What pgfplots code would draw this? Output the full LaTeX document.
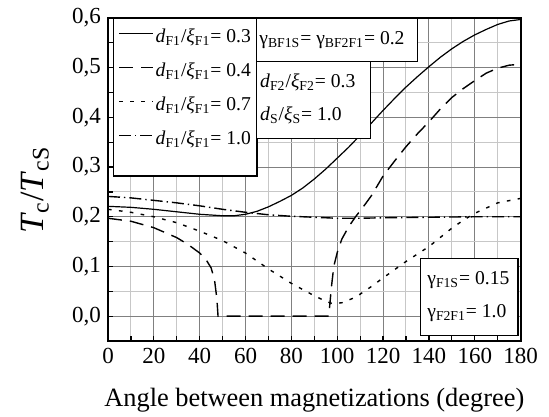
\documentclass[border=0pt]{standalone}
\usepackage{fontspec}
\setmainfont{Liberation Serif}
\usepackage{pgfplots}
\pgfplotsset{compat=1.18}

% T_c/T_cS against angle, four values of d_F1/xi_F1
\newcommand{\dxi}[1]{\textit{d}\textsubscript{F1}/\textit{ξ}\textsubscript{F1}= #1}

\begin{document}
\begin{tikzpicture}
\useasboundingbox (-54pt,-37.5pt) rectangle (220.5pt,170.5pt);
\begin{axis}[
  at={(0,0)}, anchor=south west,
  scale only axis, width=206.3pt, height=161.5pt,
  xmin=0, xmax=180, ymin=-0.05, ymax=0.6,
  xtick={0,20,40,60,80,100,120,140,160,180},
  ytick={0,0.1,0.2,0.3,0.4,0.5,0.6},
  minor tick num=1,
  grid=both,
  major grid style={line width=0.5pt, draw=black!50},
  minor grid style={line width=0.5pt, draw=black!22},
  tick align=inside, tick pos=left,
  major tick length=2.5pt, minor tick length=2.5pt,
  every tick/.style={black, line width=0.6pt},
  axis line style={line width=0.9pt},
  /pgf/number format/assume math mode=true,
  ticklabel style={font=\fontsize{11.5}{13}\selectfont},
  yticklabel style={/pgf/number format/.cd, fixed, fixed zerofill, precision=1, use comma},
  xlabel={Angle between magnetizations (degree)},
  xlabel style={font=\fontsize{13.2}{15}\selectfont, at={(axis description cs:0.5,-0.183)}, anchor=center},
  ylabel={\textit{T}\textsubscript{c}/\textit{T}\textsubscript{cS}},
  ylabel style={font=\fontsize{17}{19}\selectfont, at={(axis description cs:-0.177,0.467)}, anchor=center},
  legend image code/.code={\draw[#1] (0pt,2.5pt) -- (17pt,2.5pt);},
  legend style={at={(rel axis cs:0.024,0.977)}, anchor=north west, draw=none, fill=none,
    inner sep=0pt, font=\fontsize{9.8}{11}\selectfont, row sep=4.5pt,
    nodes={inner sep=1pt, text height=7.5pt, text depth=3pt}},
  legend cell align=left,
]
\addplot[black, line width=0.6pt] coordinates {
  (0,0.221) (10,0.219) (20,0.215) (30,0.210) (40,0.205) (50,0.202) (55,0.202)
  (60,0.205) (65,0.211) (70,0.220) (75,0.231) (80,0.243) (85,0.258) (90,0.276)
  (95,0.296) (100,0.318) (105,0.340) (110,0.364) (115,0.389) (120,0.414)
  (125,0.438) (130,0.461) (135,0.482) (140,0.502) (145,0.521) (150,0.538)
  (155,0.553) (160,0.566) (165,0.577) (170,0.587) (175,0.594) (180,0.597)
};
\addlegendentry{\dxi{0.3}}
\addplot[black, line width=0.7pt, dash pattern=on 7pt off 4pt] coordinates {
  (0,0.197) (10,0.191) (20,0.178) (30,0.158) (35,0.144) (40,0.127) (43,0.112)
  (45,0.097) (46.5,0.072) (47.5,0.035) (48,0) (96.3,0) (97.5,0.06) (98.5,0.1)
  (100,0.128) (102,0.155) (105,0.180) (108,0.200) (112,0.224) (115,0.243)
  (120,0.282) (125,0.312) (130,0.341) (135,0.367) (140,0.391) (145,0.417)
  (150,0.440) (155,0.458) (160,0.474) (165,0.489) (170,0.499) (175,0.505) (180,0.507)
};
\addlegendentry{\dxi{0.4}}
\addplot[black, line width=0.7pt, dash pattern=on 1.8pt off 3.7pt] coordinates {
  (0,0.215) (10,0.209) (20,0.200) (30,0.188) (40,0.171) (50,0.152) (60,0.127)
  (70,0.095) (80,0.066) (90,0.041) (95,0.030) (98,0.025) (102,0.027) (108,0.038)
  (115,0.060) (120,0.077) (130,0.110) (140,0.140) (150,0.177) (155,0.193)
  (160,0.207) (170,0.228) (180,0.237)
};
\addlegendentry{\dxi{0.7}}
\addplot[black, line width=0.7pt, dash pattern=on 6pt off 2pt on 0.7pt off 2pt] coordinates {
  (0,0.241) (10,0.238) (20,0.233) (30,0.228) (40,0.222) (50,0.215) (60,0.209)
  (70,0.204) (80,0.201) (90,0.199) (100,0.197) (110,0.197) (120,0.198)
  (140,0.199) (160,0.200) (180,0.200)
};
\addlegendentry{\dxi{1.0}}

\node[draw, fill=white, line width=0.75pt, inner sep=0pt, minimum width=71.65pt, minimum height=78.5pt, anchor=north west] at (rel axis cs:0.0114,1) {};
\node[draw, fill=white, line width=0.75pt, inner sep=0pt, minimum width=80.35pt, minimum height=21.5pt, anchor=north west] at (rel axis cs:0.3586,1) {};
\node[draw, fill=white, line width=0.75pt, inner sep=0pt, minimum width=57pt, minimum height=38.5pt, anchor=north west] at (rel axis cs:0.3586,0.867) {};
\node[draw, fill=white, line width=0.75pt, inner sep=0pt, minimum width=48.65pt, minimum height=38.5pt, anchor=north west] at (rel axis cs:0.756,0.257) {};

\begin{scope}[every node/.style={font=\fontsize{9.8}{11}\selectfont, inner sep=0pt, anchor=west}]
\node at (rel axis cs:0.366,0.932) {γ\textsubscript{BF1S}= γ\textsubscript{BF2F1}= 0.2};
\node at (rel axis cs:0.368,0.802) {\textit{d}\textsubscript{F2}/\textit{ξ}\textsubscript{F2}= 0.3};
\node at (rel axis cs:0.368,0.700) {\textit{d}\textsubscript{S}/\textit{ξ}\textsubscript{S}= 1.0};
\node at (rel axis cs:0.773,0.189) {γ\textsubscript{F1S}= 0.15};
\node at (rel axis cs:0.773,0.087) {γ\textsubscript{F2F1}= 1.0};
\end{scope}
\end{axis}
\end{tikzpicture}
\end{document}
